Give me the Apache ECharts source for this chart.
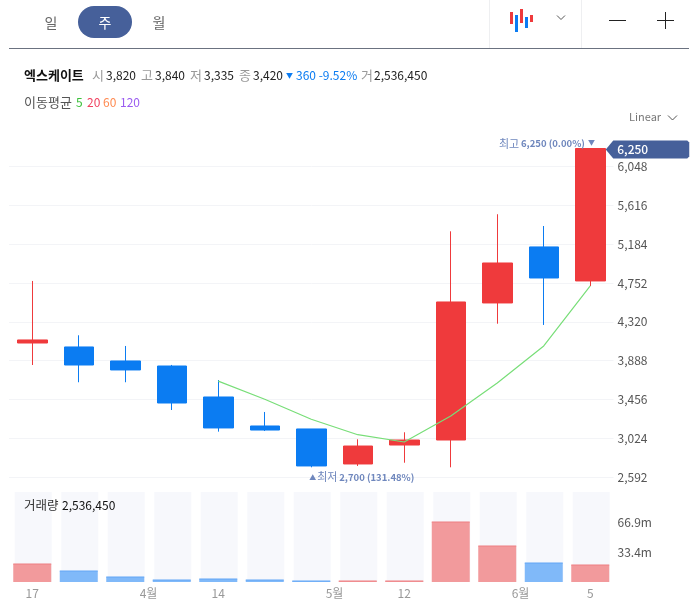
<!DOCTYPE html>
<html><head><meta charset="utf-8">
<style>html,body{margin:0;padding:0;background:#fff}#c{width:699px;height:613px}</style>
<script src="https://cdn.jsdelivr.net/npm/echarts@6/dist/echarts.min.js"></script>
</head><body><div id="c"></div>
<script>
const categories = ['17','24','31','7','14','21','28','5','12','19','26','6','5b'];
const opens  = [4084,4040,3884,3828,3483,3160,3127,2737,2948,3004,4530,5154,4775];
const closes = [4118,3839,3784,3416,3138,3115,2715,2937,3004,4541,4975,4808,6250];
const lows   = [3839,3647,3647,3338,3097,3104,2700,2715,2751,2700,4299,4285,4719];
const highs  = [4775,4170,4051,3840,3672,3316,3127,3012,3090,5328,5518,5387,6250];
const ma5    = [null,null,null,null,3659,3458,3235,3063,2982,3271,3639,4051,4719];
const volumes = [20,12.3,5.6,2.2,3.4,2.2,1.1,1.1,1.1,66.9,40.1,21.2,19];
const volumeMax = 100.3;
const priceMin = 2592, priceMax = 6250, priceStep = 432;
const volumeTicks = [33.4,66.9];
const timePositions = [0,2.5,4,6.5,8,10.5,12];
const timeLabels = ['17','4월','14','5월','12','6월','5'];

const RED='#EF3A3C', BLUE='#0B7CF2', VRED='#F29A9C', VBLUE='#80B9F9', VRED2='#EE7F82', VBLUE2='#62A6F5', NAVY='#46609A', ANN='#6F87BD';
const FONT='"Noto Sans CJK KR","Noto Sans",sans-serif';
const T=(x,y,text,fill,size,weight,align)=>({type:'text',z:50,x,y,style:{text,fill,font:`${weight||'normal'} ${size||12}px ${FONT}`,align:align||'left',verticalAlign:'middle'}});
const R=(x,y,w,h,fill,r)=>({type:'rect',z:40,shape:{x,y,width:w,height:h,r:r||0},style:{fill}});
const L=(x1,y1,x2,y2,stroke,w)=>({type:'line',z:40,shape:{x1,y1,x2,y2},style:{stroke,lineWidth:w||1}});
const P=(pts,stroke)=>({type:'polyline',z:40,shape:{points:pts},style:{stroke,fill:null,lineWidth:1}});

const up=i=>closes[i]>=opens[i];
const chart=echarts.init(document.getElementById('c'),null,{renderer:'canvas'});
const gridW=604.5;
chart.setOption({
  animation:false,
  grid:[
    {left:9,top:148.5,width:gridW,height:328.5},
    {left:9,top:492,width:gridW,height:90},
    {left:10,top:492,width:gridW,height:90}
  ],
  xAxis:[
    {type:'category',gridIndex:0,data:categories,boundaryGap:true,axisLine:{show:false},axisTick:{show:false},axisLabel:{show:false},splitLine:{show:false}},
    {type:'category',gridIndex:1,data:categories,axisLine:{show:false},axisTick:{show:false},axisLabel:{show:false},splitLine:{show:false}},
    {type:'category',gridIndex:2,data:categories,axisLine:{show:false},axisTick:{show:false},axisLabel:{show:false},splitLine:{show:false}},
    {type:'value',gridIndex:1,position:'bottom',min:-0.5,max:12.5,axisLine:{show:false},axisTick:{show:false},splitLine:{show:false},
      axisLabel:{show:true,customValues:timePositions,margin:5,color:'#999',fontSize:12,fontFamily:FONT,
        formatter:v=>timeLabels[timePositions.indexOf(v)]}}
  ],
  yAxis:[
    {type:'value',gridIndex:0,position:'right',min:priceMin,max:priceMax,interval:priceStep,scale:true,
      axisLine:{show:false},axisTick:{show:false},
      splitLine:{show:true,showMaxLine:false,lineStyle:{color:'#F3F4F7',width:1}},
      axisLabel:{showMaxLabel:false,margin:4,color:'#555',fontSize:12,fontFamily:FONT,formatter:v=>v.toLocaleString('en-US')}},
    {type:'value',gridIndex:1,position:'right',min:0,max:volumeMax,axisLine:{show:false},axisTick:{show:false},splitLine:{show:false},
      axisLabel:{customValues:volumeTicks,margin:4,color:'#555',fontSize:12,fontFamily:FONT,formatter:v=>v.toFixed(1)+'m'}},
    {type:'value',gridIndex:2,min:0,max:volumeMax,show:false}
  ],
  series:[
    {type:'bar',name:'bg',xAxisIndex:2,yAxisIndex:2,z:1,barWidth:37,silent:true,
      data:categories.map(()=>volumeMax),itemStyle:{color:'#F7F8FC'}},
    {type:'bar',name:'volume',xAxisIndex:1,yAxisIndex:1,z:2,barWidth:38,
      data:volumes.map((v,i)=>({value:v,itemStyle:{color:up(i)?VRED:VBLUE}}))},
    {type:'scatter',name:'volumeTop',xAxisIndex:1,yAxisIndex:1,z:3,symbol:'rect',symbolSize:[38,1],
      data:volumes.map((v,i)=>({value:v,itemStyle:{color:up(i)?VRED2:VBLUE2,opacity:1}}))},
    {type:'candlestick',name:'price',xAxisIndex:0,yAxisIndex:0,z:4,barWidth:30,clip:false,
      data:categories.map((_,i)=>[opens[i],closes[i],lows[i],highs[i]]),
      itemStyle:{color:RED,color0:BLUE,borderColor:RED,borderColor0:BLUE,borderWidth:1,borderJoin:'miter'}},
    {type:'line',name:'ma5',xAxisIndex:0,yAxisIndex:0,z:5,data:ma5,showSymbol:false,symbol:'none',
      lineStyle:{color:'#78DE78',width:1.2}}
  ]
});
const hi=chart.convertToPixel({xAxisIndex:0,yAxisIndex:0},[12,6250]);
const lo=chart.convertToPixel({xAxisIndex:0,yAxisIndex:0},[6,2700]);
const g=[
  // tabs and header chrome
  R(78,6,54,32,NAVY,16),
  T(51,23,'일','#666',14,'normal','center'),T(105,23,'주','#fff',14,'normal','center'),T(159,23,'월','#666',14,'normal','center'),
  L(9,48.5,689,48.5,'#6B7280',1),
  L(489.5,0,489.5,48,'#EEEFF1',1),L(581.5,0,581.5,48,'#EEEFF1',1),
  R(510,12,3,12,RED),R(515,15,3,17,BLUE),R(520,9,3,14,RED),R(525,17,3,11,BLUE),R(530,15,3,7,RED),
  P([[557,15.5],[561,19.5],[565,15.5]],'#555'),
  L(609,20.5,626,20.5,'#222',1),L(657,20.5,674,20.5,'#222',1),L(665.5,12,665.5,29,'#222',1),
  // quote line
  T(24,75,'엑스케이트','#111',13,'bold'),
  T(92,75,'시','#999',13),T(106,75,'3,820','#222'),
  T(141,75,'고','#999',13),T(155,75,'3,840','#222'),
  T(190,75,'저','#999',13),T(204,75,'3,335','#222'),
  T(239,75,'종','#999',13),T(253,75,'3,420','#222'),
  T(286,75,'▼',BLUE,7),T(296,75,'360 -9.52%',BLUE,12),
  T(361,75,'거','#999',13),T(374,75,'2,536,450','#222'),
  T(24,102,'이동평균','#555',13),T(76,102,'5','#3CC13C'),T(87,102,'20','#F0405F'),T(103,102,'60','#FF8A50'),T(120,102,'120','#9A5CF0'),
  T(629,117,'Linear','#777',11),
  P([[668,115.5],[672.5,120],[677,115.5]],'#555'),
  // high tag
  {type:'polygon',z:40,shape:{points:[[hi[0]+15.5,hi[1]+1],[hi[0]+23,hi[1]-8],[hi[0]+97,hi[1]-8],[hi[0]+99,hi[1]-6],[hi[0]+99,hi[1]+8],[hi[0]+97,hi[1]+10],[hi[0]+23,hi[1]+10]]},style:{fill:NAVY}},
  T(hi[0]+27,hi[1]+1,'6,250','#fff',12,'500'),
  // annotations
  T(499,hi[1]-5,'최고',ANN,11),
  T(521,hi[1]-5,'6,250 (0.00%)',ANN,9.5,'bold'),
  T(588,hi[1]-6,'▼',ANN,7),
  T(lo[0]-2,477,'▲',ANN,7),
  T(lo[0]+6,477,'최저',ANN,11),
  T(lo[0]+28,477,'2,700 (131.48%)',ANN,9.5,'bold'),
  // volume caption
  T(24,505,'거래량','#333',12.5),T(62,505,'2,536,450','#111')
];
chart.setOption({graphic:g});
</script></body></html>
